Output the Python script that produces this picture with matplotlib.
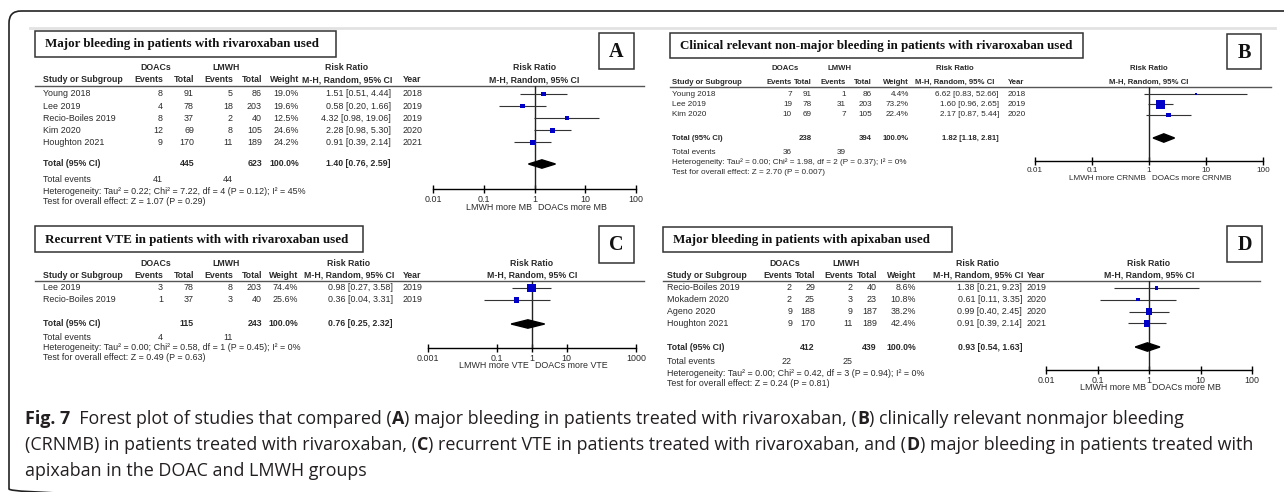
import numpy as np
import matplotlib
matplotlib.use("Agg")
import matplotlib.pyplot as plt
from matplotlib.patches import Rectangle, FancyBboxPatch
from matplotlib.ticker import NullLocator

W, H = 1284, 492

# ---- Panel A: major bleeding, rivaroxaban
studies_a = ["Young 2018", "Lee 2019", "Recio-Boiles 2019", "Kim 2020", "Houghton 2021"]
doac_ev_a = [8, 4, 8, 12, 9]
doac_n_a = [91, 78, 37, 69, 170]
lmwh_ev_a = [5, 18, 2, 8, 11]
lmwh_n_a = [86, 203, 40, 105, 189]
weight_a = [19.0, 19.6, 12.5, 24.6, 24.2]
rr_a = [1.51, 0.58, 4.32, 2.28, 0.91]
lo_a = [0.51, 0.20, 0.98, 0.98, 0.39]
hi_a = [4.44, 1.66, 19.06, 5.30, 2.14]
year_a = [2018, 2019, 2019, 2020, 2021]
total_a = [445, 623, 1.40, 0.76, 2.59]
events_a = [41, 44]
het_a = "Heterogeneity: Tau\u00b2 = 0.22; Chi\u00b2 = 7.22, df = 4 (P = 0.12); I\u00b2 = 45%"
test_a = "Test for overall effect: Z = 1.07 (P = 0.29)"

# ---- Panel B: CRNMB, rivaroxaban
studies_b = ["Young 2018", "Lee 2019", "Kim 2020"]
doac_ev_b = [7, 19, 10]
doac_n_b = [91, 78, 69]
lmwh_ev_b = [1, 31, 7]
lmwh_n_b = [86, 203, 105]
weight_b = [4.4, 73.2, 22.4]
rr_b = [6.62, 1.60, 2.17]
lo_b = [0.83, 0.96, 0.87]
hi_b = [52.66, 2.65, 5.44]
year_b = [2018, 2019, 2020]
total_b = [238, 394, 1.82, 1.18, 2.81]
events_b = [36, 39]
het_b = "Heterogeneity: Tau\u00b2 = 0.00; Chi\u00b2 = 1.98, df = 2 (P = 0.37); I\u00b2 = 0%"
test_b = "Test for overall effect: Z = 2.70 (P = 0.007)"

# ---- Panel C: recurrent VTE, rivaroxaban
studies_c = ["Lee 2019", "Recio-Boiles 2019"]
doac_ev_c = [3, 1]
doac_n_c = [78, 37]
lmwh_ev_c = [8, 3]
lmwh_n_c = [203, 40]
weight_c = [74.4, 25.6]
rr_c = [0.98, 0.36]
lo_c = [0.27, 0.04]
hi_c = [3.58, 3.31]
year_c = [2019, 2019]
total_c = [115, 243, 0.76, 0.25, 2.32]
events_c = [4, 11]
het_c = "Heterogeneity: Tau\u00b2 = 0.00; Chi\u00b2 = 0.58, df = 1 (P = 0.45); I\u00b2 = 0%"
test_c = "Test for overall effect: Z = 0.49 (P = 0.63)"

# ---- Panel D: major bleeding, apixaban
studies_d = ["Recio-Boiles 2019", "Mokadem 2020", "Ageno 2020", "Houghton 2021"]
doac_ev_d = [2, 2, 9, 9]
doac_n_d = [29, 25, 188, 170]
lmwh_ev_d = [2, 3, 9, 11]
lmwh_n_d = [40, 23, 187, 189]
weight_d = [8.6, 10.8, 38.2, 42.4]
rr_d = [1.38, 0.61, 0.99, 0.91]
lo_d = [0.21, 0.11, 0.40, 0.39]
hi_d = [9.23, 3.35, 2.45, 2.14]
year_d = [2019, 2020, 2020, 2021]
total_d = [412, 439, 0.93, 0.54, 1.63]
events_d = [22, 25]
het_d = "Heterogeneity: Tau\u00b2 = 0.00; Chi\u00b2 = 0.42, df = 3 (P = 0.94); I\u00b2 = 0%"
test_d = "Test for overall effect: Z = 0.24 (P = 0.81)"

titles = ["Major bleeding in patients with rivaroxaban used",
          "Clinical relevant non-major bleeding in patients with rivaroxaban used",
          "Recurrent VTE in patients with with rivaroxaban used",
          "Major bleeding in patients with apixaban used"]
letters = ["A", "B", "C", "D"]
favours = [("LMWH more MB", "DOACs more MB"),
           ("LMWH more CRNMB", "DOACs more CRNMB"),
           ("LMWH more VTE", "DOACs more VTE"),
           ("LMWH more MB", "DOACs more MB")]
ticks_std = [0.01, 0.1, 1, 10, 100]
ticks_c = [0.001, 0.1, 1, 10, 1000]

SANS = "Liberation Sans"
SERIF = "Liberation Serif"
TXT = "#2a2a2a"
BLUE = "#0000c8"

fig = plt.figure(figsize=(W / 100, H / 100), dpi=100)
base = fig.add_axes([0, 0, 1, 1])
base.set_xlim(0, W)
base.set_ylim(H, 0)
base.axis("off")

# outer frame + light rule
base.add_patch(FancyBboxPatch((9, 11), 1400, 490, boxstyle="round,pad=0,rounding_size=12",
                              fc="none", ec="#222222", lw=1.2, clip_on=False))
base.plot([30, 1275], [27.5, 27.5], color="#e2e2e2", lw=2)


def txt(x, y, s, fs, ha="left", bold=False):
    base.text(x, y, s, ha=ha, va="center", fontsize=fs, family=SANS,
              fontweight="bold" if bold else "normal", color=TXT)


def panel(d, L, title, letter, fav, ticks):
    fs = L["fs"]
    bf = L["bfs"]
    c = L["cols"]
    # title box and letter box
    x0, y0, x1, y1 = L["tbox"]
    base.add_patch(Rectangle((x0, y0), x1 - x0, y1 - y0, fc="none", ec="#333333", lw=1.1))
    base.text(x0 + 10, (y0 + y1) / 2 + 0.5, title, ha="left", va="center", fontsize=9.4,
              family=SERIF, fontweight="bold", color="#111111")
    x0, y0, x1, y1 = L["lbox"]
    base.add_patch(Rectangle((x0, y0), x1 - x0, y1 - y0, fc="none", ec="#333333", lw=1.1))
    base.text((x0 + x1) / 2, (y0 + y1) / 2 + 1, letter, ha="center", va="center", fontsize=14.5,
              family=SERIF, fontweight="bold", color="#111111")

    h1, h2 = L["hdr"]
    txt(c[1] - 7, h1, "DOACs", bf, "center", True)
    txt(c[3] - 7, h1, "LMWH", bf, "center", True)
    txt(c[6] - 44, h1, "Risk Ratio", bf, "center", True)
    txt(c[0], h2, "Study or Subgroup", bf, "left", True)
    txt(c[1], h2, "Events", bf, "right", True)
    txt(c[2], h2, "Total", bf, "right", True)
    txt(c[3], h2, "Events", bf, "right", True)
    txt(c[4], h2, "Total", bf, "right", True)
    txt(c[5], h2, "Weight", bf, "right", True)
    txt(c[6] - 44, h2, "M-H, Random, 95% CI", bf, "center", True)
    txt(c[7], h2, "Year", bf, "left", True)
    base.plot(L["line_x"], [L["line"], L["line"]], color="#555555", lw=1.0)

    ys = [L["row0"] + i * L["step"] for i in range(len(d["study"]))]
    for i, y in enumerate(ys):
        txt(c[0], y, d["study"][i], fs)
        txt(c[1], y, str(d["dev"][i]), fs, "right")
        txt(c[2], y, str(d["dn"][i]), fs, "right")
        txt(c[3], y, str(d["lev"][i]), fs, "right")
        txt(c[4], y, str(d["ln"][i]), fs, "right")
        txt(c[5], y, f"{d['w'][i]:.1f}%", fs, "right")
        txt(c[6], y, f"{d['rr'][i]:.2f} [{d['lo'][i]:.2f}, {d['hi'][i]:.2f}]", fs, "right")
        txt(c[7], y, str(d["year"][i]), fs)

    tn1, tn2, trr, tlo, thi = d["total"]
    yt = L["total"]
    txt(c[0], yt, "Total (95% CI)", bf, "left", True)
    txt(c[2], yt, str(tn1), bf, "right", True)
    txt(c[4], yt, str(tn2), bf, "right", True)
    txt(c[5], yt, "100.0%", bf, "right", True)
    txt(c[6], yt, f"{trr:.2f} [{tlo:.2f}, {thi:.2f}]", bf, "right", True)
    txt(c[0], L["events"], "Total events", fs)
    txt(c[1], L["events"], str(d["events"][0]), fs, "right")
    txt(c[3], L["events"], str(d["events"][1]), fs, "right")
    txt(c[0], L["het"], d["het"], fs)
    txt(c[0], L["test"], d["test"], fs)

    # forest plot
    fx0, fx1 = L["fx"]
    ay = L["axis_y"]
    ax = fig.add_axes([fx0 / W, 1 - ay / H, (fx1 - fx0) / W, (ay - L["line"]) / H])
    ax.patch.set_alpha(0)
    ax.set_xscale("log")
    ax.set_xlim(ticks[0], ticks[-1])
    ax.set_ylim(ay, L["line"])
    for s in ["top", "left", "right"]:
        ax.spines[s].set_visible(False)
    ax.spines["bottom"].set_linewidth(1.0)
    ax.set_yticks([])
    ax.set_xticks(ticks)
    ax.set_xticklabels([f"{t:g}" for t in ticks], fontsize=fs, family=SANS, color=TXT)
    ax.xaxis.set_minor_locator(NullLocator())
    ax.tick_params(axis="x", direction="inout", length=6, width=1.0, pad=1)
    ax.axvline(1, color="#222222", lw=1.0)
    ax.hlines(ys, d["lo"], d["hi"], color="#333333", lw=0.8, clip_on=False)
    ax.scatter(d["rr"], ys, marker="s", s=np.array(d["w"]) * 0.55, color=BLUE,
               zorder=3, clip_on=False, linewidths=0)
    hd = 4.2
    ax.fill([tlo, trr, thi, trr], [yt, yt - hd, yt, yt + hd], color="black", zorder=3)

    # forest header and favours labels, centred on RR = 1
    lg = np.log10(ticks)
    x1 = fx0 + (fx1 - fx0) * (0 - lg[0]) / (lg[-1] - lg[0])
    txt(x1, h1, "Risk Ratio", bf, "center", True)
    txt(x1, h2, "M-H, Random, 95% CI", bf, "center", True)
    txt(x1 - 3, L["lab_y"], fav[0], fs, "right")
    txt(x1 + 3, L["lab_y"], fav[1], fs, "left")


data_a = dict(study=studies_a, dev=doac_ev_a, dn=doac_n_a, lev=lmwh_ev_a, ln=lmwh_n_a, w=weight_a,
              rr=rr_a, lo=lo_a, hi=hi_a, year=year_a, total=total_a, events=events_a, het=het_a, test=test_a)
data_b = dict(study=studies_b, dev=doac_ev_b, dn=doac_n_b, lev=lmwh_ev_b, ln=lmwh_n_b, w=weight_b,
              rr=rr_b, lo=lo_b, hi=hi_b, year=year_b, total=total_b, events=events_b, het=het_b, test=test_b)
data_c = dict(study=studies_c, dev=doac_ev_c, dn=doac_n_c, lev=lmwh_ev_c, ln=lmwh_n_c, w=weight_c,
              rr=rr_c, lo=lo_c, hi=hi_c, year=year_c, total=total_c, events=events_c, het=het_c, test=test_c)
data_d = dict(study=studies_d, dev=doac_ev_d, dn=doac_n_d, lev=lmwh_ev_d, ln=lmwh_n_d, w=weight_d,
              rr=rr_d, lo=lo_d, hi=hi_d, year=year_d, total=total_d, events=events_d, het=het_d, test=test_d)

lay_a = dict(cols=[43, 163, 194, 233, 262, 299, 391, 403], hdr=(68, 80), line=86, row0=94, step=12.1,
             total=164, events=179, het=191, test=202, fx=(433, 636), axis_y=189, lab_y=208,
             tbox=(35, 31, 336, 57), lbox=(599, 33, 634, 69), line_x=(35, 644), fs=6.4, bfs=6.3)
lay_b = dict(cols=[672, 792, 812, 846, 872, 909, 999, 1008], hdr=(69, 82), line=87, row0=94, step=10.5,
             total=138, events=152, het=162, test=173, fx=(1035, 1263), axis_y=161, lab_y=179,
             tbox=(670, 33, 1083, 58), lbox=(1227, 34, 1261, 69), line_x=(670, 1271), fs=5.9, bfs=5.6)
lay_c = dict(cols=[43, 163, 194, 233, 262, 298, 393, 403], hdr=(263, 275), line=281, row0=288, step=12,
             total=324, events=337, het=348, test=358, fx=(428, 636), axis_y=348, lab_y=366,
             tbox=(35, 226, 363, 252), lbox=(599, 226, 634, 263), line_x=(35, 644), fs=6.4, bfs=6.3)
lay_d = dict(cols=[667, 792, 815, 853, 877, 916, 1022, 1027], hdr=(263, 275), line=281, row0=288, step=11.8,
             total=347, events=361, het=373, test=384, fx=(1046, 1252), axis_y=370, lab_y=388,
             tbox=(663, 227, 952, 252), lbox=(1227, 226, 1262, 262), line_x=(663, 1260), fs=6.4, bfs=6.3)

panel(data_a, lay_a, titles[0], letters[0], favours[0], ticks_std)
panel(data_b, lay_b, titles[1], letters[1], favours[1], ticks_std)
panel(data_c, lay_c, titles[2], letters[2], favours[2], ticks_c)
panel(data_d, lay_d, titles[3], letters[3], favours[3], ticks_std)

# caption with mixed weights
cap_lines = [
    [("Fig. 7", True), ("  Forest plot of studies that compared (", False), ("A", True),
     (") major bleeding in patients treated with rivaroxaban, (", False), ("B", True),
     (") clinically relevant nonmajor bleeding", False)],
    [("(CRNMB) in patients treated with rivaroxaban, (", False), ("C", True),
     (") recurrent VTE in patients treated with rivaroxaban, and (", False), ("D", True),
     (") major bleeding in patients treated with", False)],
    [("apixaban in the DOAC and LMWH groups", False)],
]
cap_y = [419, 445, 471]
renderer = fig.canvas.get_renderer()
for parts, y in zip(cap_lines, cap_y):
    x = 25
    for s, b in parts:
        t = base.text(x, y, s, ha="left", va="center", fontsize=12.9, family="Open Sans",
                      fontweight="bold" if b else "normal", color="#231f20")
        x += t.get_window_extent(renderer=renderer).width

fig.savefig("out.png", dpi=100)
